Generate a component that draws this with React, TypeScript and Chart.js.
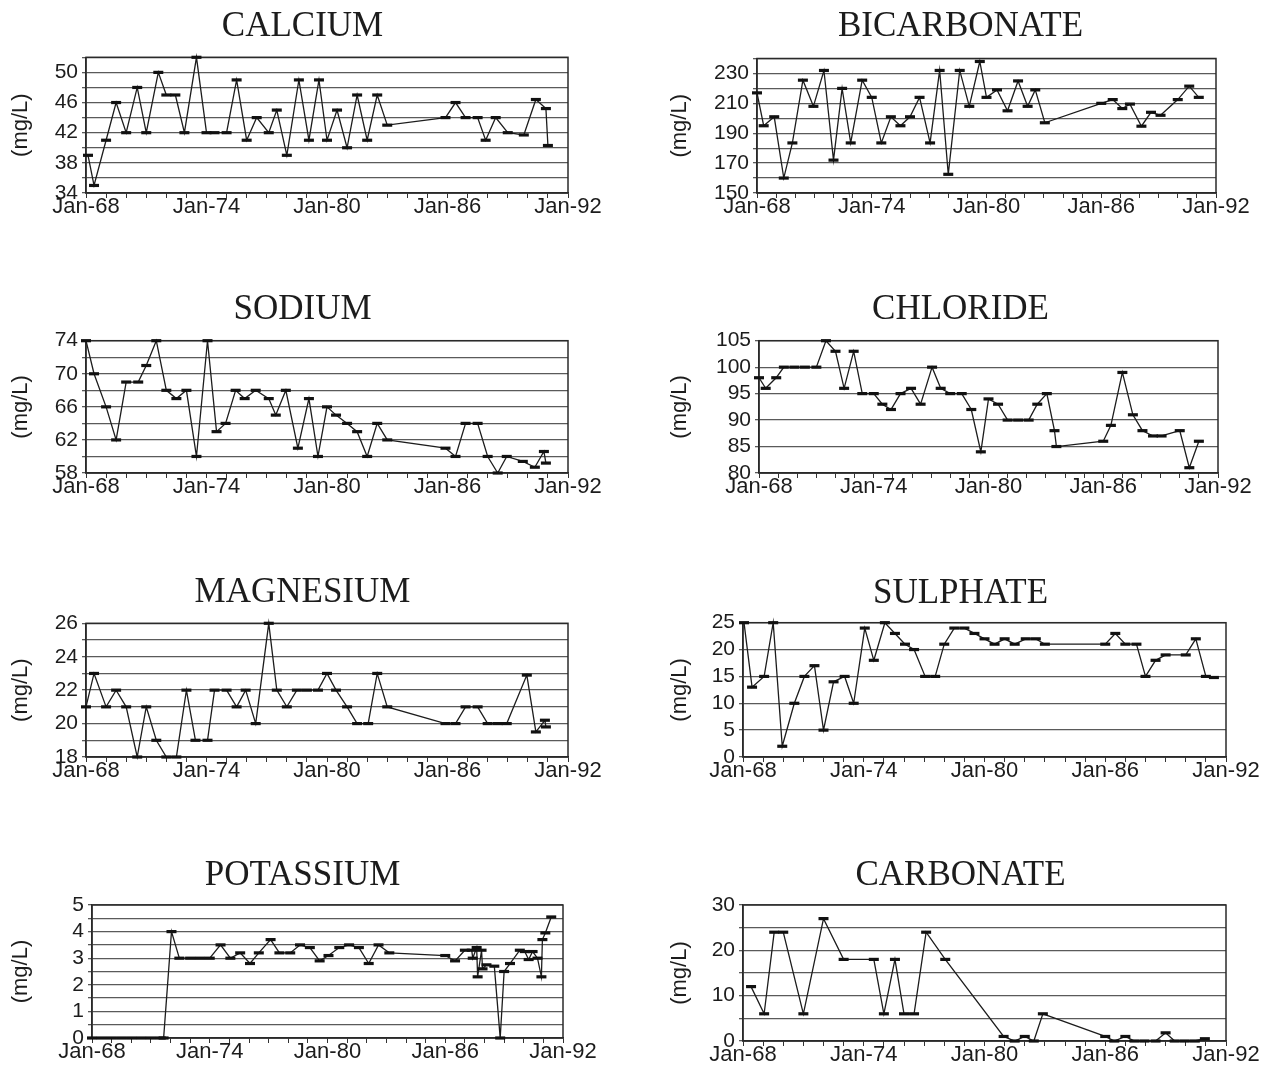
import React, { useEffect, useRef } from 'react';
import { Chart, registerables } from 'chart.js';

Chart.register(...registerables);

// ---------- DATA ----------
const xTickYears = [1968, 1974, 1980, 1986, 1992];
const xTickLabels = ['Jan-68', 'Jan-74', 'Jan-80', 'Jan-86', 'Jan-92'];

const calciumDates = [1968.1, 1968.4, 1969.0, 1969.5, 1970.0, 1970.55, 1971.0, 1971.6, 1972.0, 1972.45, 1972.9, 1973.5, 1974.0, 1974.4, 1975.0, 1975.5, 1976.0, 1976.5, 1977.1, 1977.5, 1978.0, 1978.6, 1979.1, 1979.6, 1980.0, 1980.5, 1981.0, 1981.5, 1982.0, 1982.5, 1983.0, 1985.9, 1986.4, 1986.9, 1987.5, 1987.9, 1988.4, 1989.0, 1989.8, 1990.4, 1990.9, 1991.0];
const calciumValues = [39, 35, 41, 46, 42, 48, 42, 50, 47, 47, 42, 52, 42, 42, 42, 49, 41, 44, 42, 45, 39, 49, 41, 49, 41, 45, 40, 47, 41, 47, 43, 44, 46, 44, 44, 41, 44, 42, 41.7, 46.4, 45.2, 40.3];
const calciumTicks = [34, 38, 42, 46, 50];

const bicarbonateDates = [1968.0, 1968.35, 1968.9, 1969.4, 1969.85, 1970.4, 1970.95, 1971.5, 1972.0, 1972.45, 1972.9, 1973.5, 1974.0, 1974.5, 1975.0, 1975.5, 1976.0, 1976.5, 1977.05, 1977.55, 1978.0, 1978.6, 1979.1, 1979.65, 1980.0, 1980.55, 1981.1, 1981.65, 1982.15, 1982.55, 1983.05, 1986.0, 1986.6, 1987.1, 1987.5, 1988.1, 1988.6, 1989.1, 1990.0, 1990.6, 1991.1];
const bicarbonateValues = [217, 195, 201, 160, 183.5, 225.5, 208, 232, 172, 220, 183.5, 225.5, 214, 183.5, 201, 195, 201, 214, 183.5, 232, 162.5, 232, 208, 238, 214, 219, 205, 225, 208, 219, 197, 210, 212.5, 206.5, 209.5, 194.7, 204, 202, 212.5, 221.5, 214];
const bicarbonateTicks = [150, 170, 190, 210, 230];

const sodiumDates = [1968.0, 1968.4, 1969.0, 1969.5, 1970.0, 1970.6, 1971.0, 1971.5, 1972.0, 1972.5, 1973.0, 1973.5, 1974.05, 1974.5, 1974.95, 1975.45, 1975.9, 1976.45, 1977.1, 1977.45, 1977.95, 1978.55, 1979.1, 1979.55, 1980.0, 1980.45, 1981.0, 1981.5, 1982.0, 1982.5, 1983.0, 1985.9, 1986.4, 1986.9, 1987.5, 1988.0, 1988.5, 1988.95, 1989.75, 1990.35, 1990.8, 1990.9];
const sodiumValues = [74, 70, 66, 62, 69, 69, 71, 74, 68, 67, 68, 60, 74, 63, 64, 68, 67, 68, 67, 65, 68, 61, 67, 60, 66, 65, 64, 63, 60, 64, 62, 61, 60, 64, 64, 60, 58, 60, 59.4, 58.7, 60.6, 59.2];
const sodiumTicks = [58, 62, 66, 70, 74];

const chlorideDates = [1968.0, 1968.35, 1968.9, 1969.3, 1969.85, 1970.4, 1971.0, 1971.5, 1972.0, 1972.45, 1972.95, 1973.4, 1974.0, 1974.45, 1974.9, 1975.4, 1975.95, 1976.45, 1977.05, 1977.5, 1978.0, 1978.6, 1979.1, 1979.6, 1980.0, 1980.5, 1981.0, 1981.55, 1982.1, 1982.55, 1983.05, 1983.45, 1983.55, 1986.0, 1986.4, 1987.0, 1987.55, 1988.05, 1988.6, 1989.05, 1990.0, 1990.5, 1991.0];
const chlorideValues = [98, 96, 98, 100, 100, 100, 100, 105, 103, 96, 103, 95, 95, 93, 92, 95, 96, 93, 100, 96, 95, 95, 92, 84, 94, 93, 90, 90, 90, 93, 95, 88, 85, 86, 89, 99, 91, 88, 87, 87, 88, 81, 86];
const chlorideTicks = [80, 85, 90, 95, 100, 105];

const magnesiumDates = [1968.0, 1968.4, 1969.0, 1969.5, 1970.0, 1970.55, 1971.0, 1971.5, 1972.0, 1972.5, 1973.0, 1973.45, 1974.05, 1974.4, 1975.0, 1975.5, 1975.95, 1976.45, 1977.1, 1977.5, 1978.0, 1978.5, 1979.0, 1979.55, 1980.0, 1980.45, 1981.0, 1981.5, 1982.05, 1982.5, 1983.0, 1985.9, 1986.4, 1986.9, 1987.5, 1988.0, 1988.5, 1988.95, 1989.95, 1990.4, 1990.85, 1990.9];
const magnesiumValues = [21, 23, 21, 22, 21, 18, 21, 19, 18, 18, 22, 19, 19, 22, 22, 21, 22, 20, 26, 22, 21, 22, 22, 22, 23, 22, 21, 20, 20, 23, 21, 20, 20, 21, 21, 20, 20, 20, 22.9, 19.5, 20.2, 19.8];
const magnesiumTicks = [18, 20, 22, 24, 26];

const sulphateDates = [1968.05, 1968.45, 1969.05, 1969.5, 1969.95, 1970.55, 1971.05, 1971.55, 1972.0, 1972.5, 1973.05, 1973.5, 1974.05, 1974.5, 1975.05, 1975.55, 1976.05, 1976.5, 1977.05, 1977.55, 1978.0, 1978.5, 1979.0, 1979.5, 1980.0, 1980.5, 1981.0, 1981.5, 1982.05, 1982.55, 1983.0, 1986.0, 1986.5, 1987.0, 1987.55, 1988.0, 1988.5, 1989.0, 1990.0, 1990.5, 1991.0, 1991.4];
const sulphateValues = [25, 13, 15, 25, 2, 10, 15, 17, 5, 14, 15, 10, 24, 18, 25, 23, 21, 20, 15, 15, 21, 24, 24, 23, 22, 21, 22, 21, 22, 22, 21, 21, 23, 21, 21, 15, 18, 19, 19, 22, 15, 14.8];
const sulphateTicks = [0, 5, 10, 15, 20, 25];

const potassiumDates = [1968.0, 1968.5, 1969.0, 1969.5, 1970.0, 1970.5, 1971.0, 1971.5, 1971.65, 1972.05, 1972.45, 1973.0, 1973.5, 1974.0, 1974.55, 1975.05, 1975.55, 1976.05, 1976.5, 1977.1, 1977.55, 1978.1, 1978.6, 1979.1, 1979.6, 1980.05, 1980.6, 1981.1, 1981.6, 1982.1, 1982.6, 1983.15, 1986.0, 1986.5, 1987.0, 1987.35, 1987.4, 1987.6, 1987.65, 1987.85, 1987.9, 1988.1, 1988.5, 1988.8, 1989.0, 1989.3, 1989.8, 1990.05, 1990.25, 1990.45, 1990.7, 1990.9, 1990.95, 1991.1, 1991.4];
const potassiumValues = [0, 0, 0, 0, 0, 0, 0, 0, 0, 4, 3, 3, 3, 3, 3.5, 3, 3.2, 2.8, 3.2, 3.7, 3.2, 3.2, 3.5, 3.4, 2.9, 3.1, 3.4, 3.5, 3.4, 2.8, 3.5, 3.2, 3.1, 2.9, 3.3, 3.3, 3.0, 3.4, 2.3, 3.3, 2.6, 2.75, 2.7, 0, 2.5, 2.8, 3.3, 3.25, 2.95, 3.25, 3.0, 2.3, 3.7, 3.95, 4.55];
const potassiumTicks = [0, 1, 2, 3, 4, 5];

const carbonateDates = [1968.4, 1969.05, 1969.55, 1970.0, 1971.0, 1972.0, 1973.0, 1974.5, 1975.0, 1975.55, 1976.0, 1976.5, 1977.1, 1978.05, 1980.95, 1981.5, 1982.0, 1982.45, 1982.9, 1986.0, 1986.45, 1987.0, 1987.45, 1987.95, 1988.5, 1989.0, 1989.45, 1989.95, 1990.45, 1990.95];
const carbonateValues = [12, 6, 24, 24, 6, 27, 18, 18, 6, 18, 6, 6, 24, 18, 1, 0, 1, 0, 6, 1, 0, 1, 0, 0, 0, 1.8, 0, 0, 0, 0.5];
const carbonateTicks = [0, 10, 20, 30];

// ---------- LAYOUT (page coordinates) ----------
type Panel = {
  title: string; dates: number[]; values: number[]; labels: number[];
  yMin: number; yMax: number; step: number;
  cx: number; cy: number; cw: number;
  L: number; R: number; T: number; B: number; titleY: number; yTitlePad: number;
};

const LEFT_W = 605;
const RIGHT_X = 660;
const RIGHT_W = 601;

const panels: Panel[] = [
  { title: 'CALCIUM', dates: calciumDates, values: calciumValues, labels: calciumTicks, yMin: 34, yMax: 52, step: 2,
    cx: 0, cy: 0, cw: LEFT_W, L: 86, R: 568, T: 57.3, B: 192.7, titleY: 26.7, yTitlePad: 8 },
  { title: 'BICARBONATE', dates: bicarbonateDates, values: bicarbonateValues, labels: bicarbonateTicks, yMin: 150, yMax: 240, step: 10,
    cx: RIGHT_X, cy: 0, cw: RIGHT_W, L: 757, R: 1216, T: 58.5, B: 192.5, titleY: 26.7, yTitlePad: 7 },
  { title: 'SODIUM', dates: sodiumDates, values: sodiumValues, labels: sodiumTicks, yMin: 58, yMax: 74, step: 2,
    cx: 0, cy: 280, cw: LEFT_W, L: 86, R: 568, T: 340.7, B: 472.7, titleY: 309.5, yTitlePad: 8 },
  { title: 'CHLORIDE', dates: chlorideDates, values: chlorideValues, labels: chlorideTicks, yMin: 80, yMax: 105, step: 5,
    cx: RIGHT_X, cy: 280, cw: RIGHT_W, L: 759, R: 1218, T: 340.7, B: 473.3, titleY: 310, yTitlePad: 7 },
  { title: 'MAGNESIUM', dates: magnesiumDates, values: magnesiumValues, labels: magnesiumTicks, yMin: 18, yMax: 26, step: 1,
    cx: 0, cy: 565, cw: LEFT_W, L: 86, R: 568, T: 623.3, B: 756.7, titleY: 593, yTitlePad: 8 },
  { title: 'SULPHATE', dates: sulphateDates, values: sulphateValues, labels: sulphateTicks, yMin: 0, yMax: 25, step: 5,
    cx: RIGHT_X, cy: 565, cw: RIGHT_W, L: 743, R: 1226, T: 622.7, B: 756.7, titleY: 594, yTitlePad: 7 },
  { title: 'POTASSIUM', dates: potassiumDates, values: potassiumValues, labels: potassiumTicks, yMin: 0, yMax: 5, step: 0.5,
    cx: 0, cy: 845, cw: LEFT_W, L: 92, R: 563, T: 905, B: 1038, titleY: 876, yTitlePad: 8 },
  { title: 'CARBONATE', dates: carbonateDates, values: carbonateValues, labels: carbonateTicks, yMin: 0, yMax: 30, step: 5,
    cx: RIGHT_X, cy: 845, cw: RIGHT_W, L: 743, R: 1226, T: 905, B: 1040.7, titleY: 876, yTitlePad: 7 },
];

const TITLE_SIZE = 35;
const XH = 45;
const INK = '#1c1c1c';
const SANS = '"Liberation Sans", Arial, Helvetica, sans-serif';
const SERIF = '"Liberation Serif", "Times New Roman", serif';

const boxPlugin = {
  id: 'plotBox',
  beforeDatasetsDraw(chart: any) {
    const { ctx, chartArea: a } = chart;
    ctx.save();
    ctx.strokeStyle = '#2a2a2a';
    ctx.lineWidth = 1.5;
    ctx.strokeRect(a.left, a.top, a.right - a.left, a.bottom - a.top);
    ctx.restore();
  },
};

function PanelChart({ p }: { p: Panel }) {
  const ref = useRef<HTMLCanvasElement | null>(null);
  const ch = Math.round(p.B - p.cy + XH);

  useEffect(() => {
    if (!ref.current) return;
    const yW = p.L - p.cx;
    const rW = p.cx + p.cw - p.R;
    const pt = p.titleY - p.cy - TITLE_SIZE / 2;
    const pb = p.T - p.titleY - TITLE_SIZE / 2;
    const chart = new Chart(ref.current, {
      type: 'line',
      data: {
        datasets: [{
          data: p.dates.map((d, i) => ({ x: d, y: p.values[i] })),
          borderColor: INK,
          borderWidth: 1.3,
          tension: 0,
          fill: false,
          clip: false,
          pointStyle: 'line',
          pointRadius: 5,
          pointHoverRadius: 5,
          pointBorderWidth: 3.2,
          pointBorderColor: '#111',
          pointBackgroundColor: '#111',
        }],
      },
      options: {
        animation: false,
        responsive: false,
        maintainAspectRatio: false,
        layout: { padding: 0 },
        events: [],
        plugins: {
          legend: { display: false },
          tooltip: { enabled: false },
          title: {
            display: true,
            text: p.title,
            color: INK,
            font: { family: SERIF, size: TITLE_SIZE, weight: 'normal', lineHeight: 1 },
            padding: { top: pt, bottom: pb },
          },
        },
        scales: {
          x: {
            type: 'linear',
            min: 1968,
            max: 1992,
            afterFit: (s: any) => { s.height = XH; s.paddingLeft = 0; s.paddingRight = 0; },
            ticks: {
              stepSize: 1,
              autoSkip: false,
              maxRotation: 0,
              minRotation: 0,
              padding: -2,
              color: INK,
              font: { family: SANS, size: 22, lineHeight: 1 },
              callback: (v: any) => {
                const i = xTickYears.indexOf(Number(v));
                return i >= 0 ? xTickLabels[i] : '';
              },
            },
            grid: { drawOnChartArea: false, drawTicks: true, tickLength: 5, color: '#333', lineWidth: 1 },
            border: { display: true, color: '#2a2a2a', width: 1.5 },
          },
          y: {
            min: p.yMin,
            max: p.yMax,
            afterFit: (s: any) => { s.width = yW; s.paddingTop = 0; s.paddingBottom = 0; },
            ticks: {
              stepSize: p.step,
              autoSkip: false,
              padding: 4,
              color: INK,
              font: { family: SANS, size: 21 },
              callback: (v: any) => (p.labels.includes(Number(v)) ? String(v) : ''),
            },
            grid: { color: '#5a5a5a', lineWidth: 1.3, drawTicks: true, tickLength: 4 },
            border: { display: true, color: '#2a2a2a', width: 1.5 },
            title: {
              display: true,
              text: '(mg/L)',
              color: INK,
              font: { family: SANS, size: 22 },
              padding: { top: p.yTitlePad, bottom: 0 },
            },
          },
          yR: {
            position: 'right',
            display: true,
            ticks: { display: false },
            grid: { display: false, drawTicks: false },
            border: { display: false },
            afterFit: (s: any) => { s.width = rW; s.paddingTop = 0; s.paddingBottom = 0; },
          },
        },
      } as any,
      plugins: [boxPlugin],
    });
    return () => chart.destroy();
  }, [p]);

  return (
    <canvas
      ref={ref}
      width={p.cw}
      height={ch}
      style={{ position: 'absolute', left: p.cx, top: p.cy, width: p.cw, height: ch }}
    />
  );
}

export default function App() {
  return (
    <div style={{ position: 'absolute', left: 0, top: 0, width: 1262, height: 1068, overflow: 'hidden', background: '#fff' }}>
      {panels.map((p) => (
        <PanelChart key={p.title} p={p} />
      ))}
    </div>
  );
}
